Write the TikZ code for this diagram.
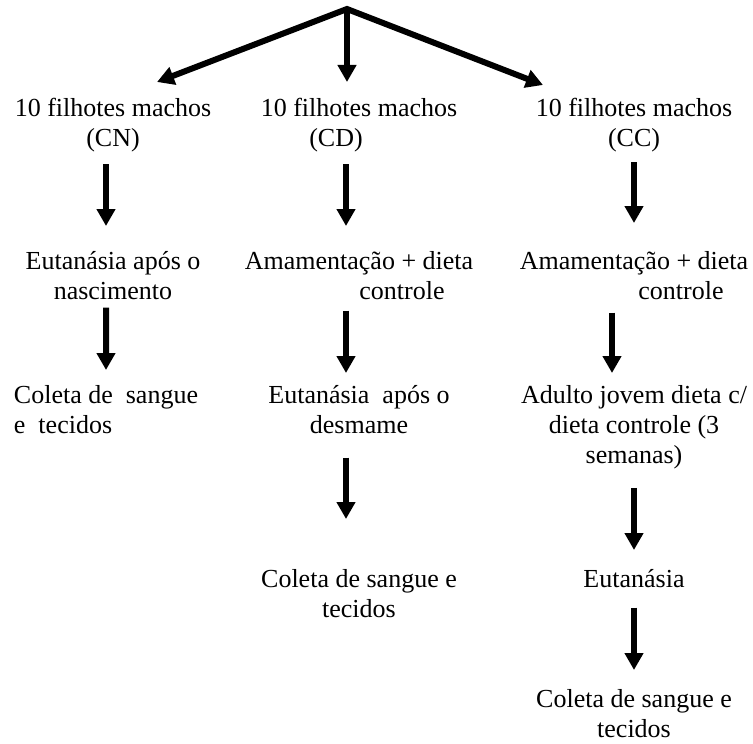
\documentclass[tikz,border=0pt]{standalone}
\usepackage{fontspec}
\setmainfont{Liberation Serif}
\usetikzlibrary{arrows.meta}

\tikzset{
  >={Triangle[width=18bp,length=17bp]},
  flow/.style={->,line width=6bp},
  txt/.style={align=center,inner sep=0pt,anchor=north,font=\fontsize{26bp}{30bp}\selectfont}
}

\begin{document}
\begin{tikzpicture}[x=1bp,y=1bp]
\useasboundingbox (0,0) rectangle (753,-744);
\coordinate (top) at (347,-9);

% grupo CN
\node (CN1) at (113,-98) [txt] {10 filhotes machos\\(CN)};
\node (CN2) at (113,-251) [txt] {Eutanásia após o\\nascimento};
\node (CN3) at (106,-385) [txt,align=left] {Coleta de\ \ sangue\\e\ \ tecidos};

% grupo CD
\node (CD1) at (359,-98) [txt] {10 filhotes machos\\(CD)\hspace{46bp}\mbox{}};
\node (CD2) at (359,-251) [txt] {Amamentação + dieta\\\hspace*{86bp}controle};
\node (CD3) at (359,-385) [txt] {Eutanásia\ \ após o\\desmame};
\node (CD4) at (359,-569) [txt] {Coleta de sangue e\\tecidos};

% grupo CC
\node (CC1) at (634,-98) [txt] {10 filhotes machos\\(CC)};
\node (CC2) at (634,-251) [txt] {Amamentação + dieta\\\hspace*{94bp}controle};
\node (CC3) at (634,-385) [txt] {Adulto jovem dieta c/\\dieta controle (3\\semanas)};
\node (CC4) at (634,-569) [txt] {Eutanásia};
\node (CC5) at (634,-689) [txt] {Coleta de sangue e\\tecidos};

\draw [flow,<->] ([shift={(44,16)}]CN1.north) -- (top) -- ([shift={(-91,13)}]CC1.north);
\draw [flow] (top) -- ([shift={(-12,16)}]CD1.north);

\draw [flow,shorten <=12bp,shorten >=25bp] ([xshift=-7bp]CN1.south) -- ([xshift=-7bp]CN2.north);
\draw [flow,shorten <=8bp,shorten >=15bp] ([xshift=-7bp]CN2.south) -- (CN3.north);

\draw [flow,shorten <=12bp,shorten >=25bp] ([xshift=-13bp]CD1.south) -- ([xshift=-13bp]CD2.north);
\draw [flow,shorten <=11bp,shorten >=12bp] ([xshift=-13bp]CD2.south) -- ([xshift=-13bp]CD3.north);
\draw [flow,shorten <=24bp,shorten >=50bp] ([xshift=-13bp]CD3.south) -- ([xshift=-13bp]CD4.north);

\draw [flow,shorten <=10bp,shorten >=28bp] (CC1.south) -- (CC2.north);
\draw [flow,shorten <=13bp,shorten >=12bp] ([xshift=-22bp]CC2.south) -- ([xshift=-22bp]CC3.north);
\draw [flow,shorten <=19bp,shorten >=19bp] (CC3.south) -- (CC4.north);
\draw [flow,shorten <=20bp,shorten >=19bp] (CC4.south) -- (CC5.north);
\end{tikzpicture}
\end{document}
